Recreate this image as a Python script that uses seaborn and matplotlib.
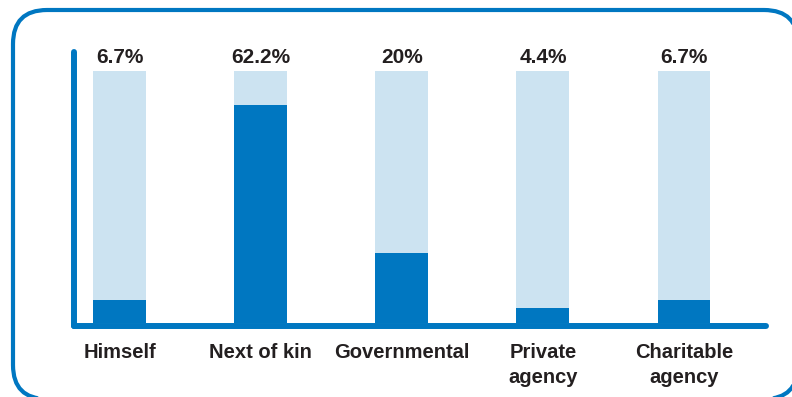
import matplotlib
matplotlib.use("Agg")
import matplotlib.pyplot as plt
from matplotlib.patches import FancyBboxPatch
from matplotlib.lines import Line2D
import seaborn as sns
import pandas as pd

# Who bears the cost of care
categories = ["Himself", "Next of kin", "Governmental", "Private\nagency", "Charitable\nagency"]
shares = [6.7, 62.2, 20, 4.4, 6.7]
labels = ["6.7%", "62.2%", "20%", "4.4%", "6.7%"]
scale_max = 72  # full height of the pale track behind each bar

DARK = "#0077c1"
PALE = "#cce3f1"
INK = "#231f20"

sns.set_theme(style="white")
plt.rcParams["font.family"] = ["Liberation Sans", "DejaVu Sans"]

df = pd.DataFrame({"category": categories, "share": shares,
                   "track": [scale_max] * len(categories)})

fig = plt.figure(figsize=(7.92, 3.97), dpi=100)
W, H = 792, 397

# rounded frame around the whole panel, in display pixels (origin bottom-left);
# traced as an open polyline so the part running off the canvas is simply cut
box = FancyBboxPatch((13, H - 399), 785, 389,
                     boxstyle="round,pad=0,rounding_size=34", transform=None)
outline = box.get_path().to_polygons(closed_only=True)[0]
fig.add_artist(Line2D(outline[:, 0], outline[:, 1], transform=None,
                      color=DARK, linewidth=3.0, solid_joinstyle="round",
                      zorder=0))

# plotting area
left, right, top, bottom = 73.5, 766, 52, 326
ax = fig.add_axes([left / W, (H - bottom) / H, (right - left) / W, (bottom - top) / H], zorder=1)
ax.patch.set_alpha(0)

sns.barplot(data=df, x="category", y="track", color=PALE, saturation=1,
            width=0.375, linewidth=0, ax=ax, zorder=1)
sns.barplot(data=df, x="category", y="share", color=DARK, saturation=1,
            width=0.375, linewidth=0, ax=ax, zorder=2)

px = scale_max / 252.0  # data units per pixel
ax.set_ylim(-3 * px, scale_max + 19 * px)
ax.set_xlim(-0.327, 4.581)

for i, txt in enumerate(labels):
    ax.annotate(txt, (i, scale_max), xytext=(0, 6), textcoords="offset points",
                ha="center", va="baseline", fontsize=15, fontweight="bold",
                color=INK, annotation_clip=False)

ax.set_xlabel("")
ax.set_ylabel("")
ax.set_yticks([])
ax.tick_params(axis="x", length=0, pad=12)
for t in ax.get_xticklabels():
    t.set_fontsize(14.5)
    t.set_fontweight("bold")
    t.set_color(INK)
    t.set_linespacing(1.4)

for side in ["top", "right"]:
    ax.spines[side].set_visible(False)
for side in ["left", "bottom"]:
    sp = ax.spines[side]
    sp.set_visible(True)
    sp.set_color(DARK)
    sp.set_linewidth(4.3)
    sp.set_capstyle("round")
    sp.set_zorder(3)

fig.savefig("out.png", dpi=100)
